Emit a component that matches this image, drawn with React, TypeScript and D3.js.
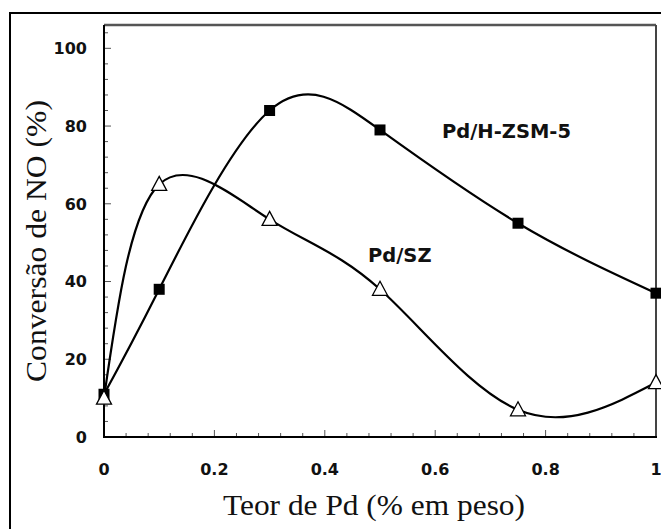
import React from "react";
import * as d3 from "d3";

const xValues = [0, 0.1, 0.3, 0.5, 0.75, 1];
const zsmValues = [11, 38, 84, 79, 55, 37];
const szValues = [10, 65, 56, 38, 7, 14];
const xTickLabels = ["0", "0.2", "0.4", "0.6", "0.8", "1"];
const xTickValues = [0, 0.2, 0.4, 0.6, 0.8, 1];
const yTickValues = [0, 20, 40, 60, 80, 100];

const W = 661;
const H = 529;
const left = 104;
const right = 656;
const top = 25;
const bottom = 437;

export default function App() {
  const x = d3.scaleLinear().domain([0, 1]).range([left, right]);
  const y = d3.scaleLinear().domain([0, 106]).range([bottom, top]);

  const line = d3
    .line<number>()
    .x((_, i) => x(xValues[i]))
    .y((d) => y(d))
    .curve(d3.curveNatural);

  const minorY = d3.range(0, 105, 4);
  const minorX = d3.range(0, 1.0001, 0.04);

  return (
    <svg width={W} height={H} style={{ position: "absolute", left: 0, top: 0, background: "#fff" }}>
      <rect x={0} y={0} width={W} height={H} fill="#fff" />
      <rect x={10} y={13} width={720} height={620} fill="none" stroke="#000" strokeWidth={2} />
      {/* plot frame */}
      <line x1={left} y1={top} x2={right} y2={top} stroke="#555" strokeWidth={2.5} />
      <line x1={right} y1={top} x2={right} y2={bottom} stroke="#444" strokeWidth={2} />
      {/* y ticks */}
      {minorY.map((v) => (
        <line key={"ym" + v} x1={left} x2={left + (v % 20 === 0 ? 7 : 4)} y1={y(v)} y2={y(v)} stroke="#555" strokeWidth={1} />
      ))}
      {/* x ticks */}
      {minorX.map((v, i) => (
        <line key={"xm" + i} x1={x(v)} x2={x(v)} y1={bottom} y2={bottom - (i % 5 === 0 ? 7 : 4)} stroke="#555" strokeWidth={1} />
      ))}
      <line x1={left} y1={top} x2={left} y2={bottom + 1} stroke="#000" strokeWidth={2} />
      <line x1={left - 1} y1={bottom} x2={right + 1} y2={bottom} stroke="#000" strokeWidth={2} />
      {/* tick labels */}
      <g fontFamily="DejaVu Sans" fontWeight="bold" fontSize={16} fill="#111">
        {yTickValues.map((v) => (
          <text key={"yl" + v} x={87} y={y(v)} dy="0.36em" textAnchor="end">
            {v}
          </text>
        ))}
        {xTickValues.map((v, i) => (
          <text key={"xl" + v} x={x(v)} y={475} textAnchor="middle">
            {xTickLabels[i]}
          </text>
        ))}
      </g>
      {/* curves */}
      <path d={line(zsmValues) || ""} fill="none" stroke="#000" strokeWidth={2.2} />
      <path d={line(szValues) || ""} fill="none" stroke="#000" strokeWidth={2.2} />
      {/* markers */}
      {zsmValues.map((v, i) => (
        <rect key={"sq" + i} x={x(xValues[i]) - 5.5} y={y(v) - 5.5} width={11} height={11} fill="#000" />
      ))}
      {szValues.map((v, i) => {
        const cx = x(xValues[i]);
        const cy = y(v);
        return (
          <path
            key={"tr" + i}
            d={`M${cx},${cy - 8} L${cx + 7.5},${cy + 6} L${cx - 7.5},${cy + 6} Z`}
            fill="#fff"
            stroke="#000"
            strokeWidth={1.3}
          />
        );
      })}
      {/* annotations */}
      <g fontFamily="DejaVu Sans" fontWeight="bold" fontSize={19.5} fill="#111">
        <text x={442} y={138}>Pd/H-ZSM-5</text>
        <text x={368} y={262}>Pd/SZ</text>
      </g>
      {/* axis titles */}
      <text
        x={374}
        y={515}
        textAnchor="middle"
        fontFamily="Liberation Serif"
        fontSize={29}
        textLength={302}
        lengthAdjust="spacingAndGlyphs"
        fill="#111"
      >
        Teor de Pd (% em peso)
      </text>
      <text
        transform={`translate(46,241) rotate(-90)`}
        textAnchor="middle"
        fontFamily="Liberation Serif"
        fontSize={29}
        textLength={282}
        lengthAdjust="spacingAndGlyphs"
        fill="#111"
      >
        Conversão de NO (%)
      </text>
    </svg>
  );
}
